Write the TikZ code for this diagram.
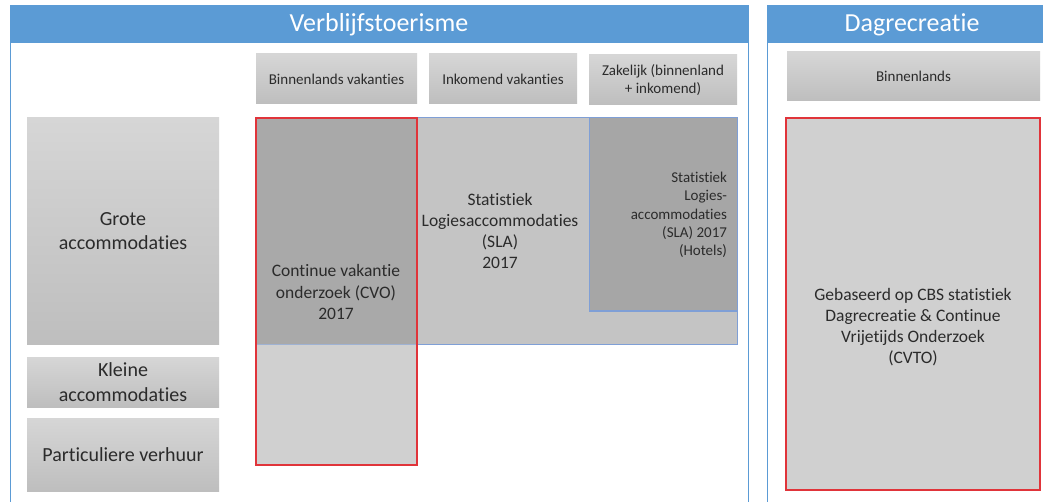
\documentclass[tikz,border=0pt]{standalone}
\usepackage{fontspec}
\setmainfont{Carlito}[Ligatures=NoCommon]
\definecolor{hdrblue}{HTML}{5B9BD5}
\definecolor{panelline}{HTML}{5B9BD5}
\definecolor{boxtop}{HTML}{D6D6D6}
\definecolor{boxbot}{HTML}{BEBEBE}
\definecolor{slafill}{HTML}{C4C4C4}
\definecolor{slaline}{HTML}{7F9FD6}
\definecolor{hotelfill}{HTML}{A6A6A6}
\definecolor{cvofill}{HTML}{D0D0D0}
\definecolor{overlapfill}{HTML}{A9A9A9}
\definecolor{redline}{HTML}{E0343A}
\definecolor{txtgray}{HTML}{2B2B2B}
\begin{document}
\begin{tikzpicture}[x=1pt,y=-1pt,
  every node/.style={inner sep=0pt, outer sep=0pt},
  panelbox/.style={draw=panelline, line width=1pt, fill=white, anchor=north west},
  hdr/.style={fill=hdrblue, anchor=north west, text=white, font=\fontsize{26}{30}\selectfont},
  gbox/.style={top color=boxtop, bottom color=boxbot, anchor=north west, text=txtgray, align=center},
  small/.style={font=\fontsize{15}{18.3}\selectfont},
  big/.style={font=\fontsize{20}{24.4}\selectfont},
  mid/.style={font=\fontsize{17.5}{21.2}\selectfont},
  txt/.style={text=txtgray, align=center},
  slabox/.style={fill=slafill, draw=slaline, line width=1pt, anchor=north west},
  hotelbox/.style={fill=hotelfill, draw=slaline, line width=1pt, anchor=north west},
  redbox/.style={draw=redline, line width=1.3pt, anchor=north west}
]
\useasboundingbox (0,0) rectangle (1043,502);
\clip (0,0) rectangle (1043,502);
\fill[white] (0,0) rectangle (1043,502);

% panels
\node[panelbox, minimum width=738pt, minimum height=520pt] (vp) at (10,6) {};
\node[hdr, minimum width=738pt, minimum height=37pt] (vh) at (10,6) {Verblijfstoerisme};
\node[panelbox, minimum width=290pt, minimum height=520pt] (dp) at (767,6) {};
\node[hdr, minimum width=290pt, minimum height=37pt] (dh) at (767,6) {Dagrecreatie};

% column headers
\node[gbox, small, minimum width=161pt, minimum height=50pt] (bv) at (256,54) {Binnenlands vakanties};
\node[gbox, small, minimum width=148pt, minimum height=50pt] (iv) at (429,54) {Inkomend vakanties};
\node[gbox, small, minimum width=148pt, minimum height=50pt] (zk) at (589,55) {Zakelijk (binnenland\\+ inkomend)};
\node[gbox, small, minimum width=253pt, minimum height=49pt] (bn) at (787,52) {Binnenlands};

% row headers
\node[gbox, big, minimum width=192pt, minimum height=226pt] (grote) at (27,118) {Grote\\accommodaties};
\node[gbox, big, minimum width=192pt, minimum height=50pt] (kleine) at (27,357) {Kleine\\accommodaties};
\node[gbox, big, minimum width=192pt, minimum height=73pt] (part) at (27,418) {Particuliere verhuur};

% SLA
\node[slabox, minimum width=481pt, minimum height=226pt] (sla) at (256,118) {};
\node[hotelbox, minimum width=148pt, minimum height=193pt] (hotels) at (589,118) {};

% CVO
\node[fill=cvofill, anchor=north west, minimum width=161pt, minimum height=347pt] (cvo) at (256,118) {};
\fill[overlapfill] (cvo.north west) rectangle (sla.south -| cvo.east);
\draw[slaline, line width=0.8pt, opacity=0.6] (sla.south west) -- (sla.south -| cvo.east);
\node[redbox, minimum width=161pt, minimum height=347pt] (cvoframe) at (256,118) {};

% CVTO
\node[fill=cvofill, draw=redline, line width=1.3pt, anchor=north west, minimum width=254pt, minimum height=372pt] (cvto) at (786,118) {};

% texts
\node[txt, mid] (slat) at (500,231) {Statistiek\\Logiesaccommodaties\\(SLA)\\2017};
\node[txt, small, align=right, anchor=east] (hott) at (727,215) {Statistiek\\Logies-\\accommodaties\\(SLA) 2017\\(Hotels)};
\node[txt, mid] (cvot) at (336,292) {Continue vakantie\\onderzoek (CVO)\\2017};
\node[txt, mid] (cvtot) at (913,327) {Gebaseerd op CBS statistiek\\Dagrecreatie \& Continue\\Vrijetijds Onderzoek\\(CVTO)};
\end{tikzpicture}
\end{document}
